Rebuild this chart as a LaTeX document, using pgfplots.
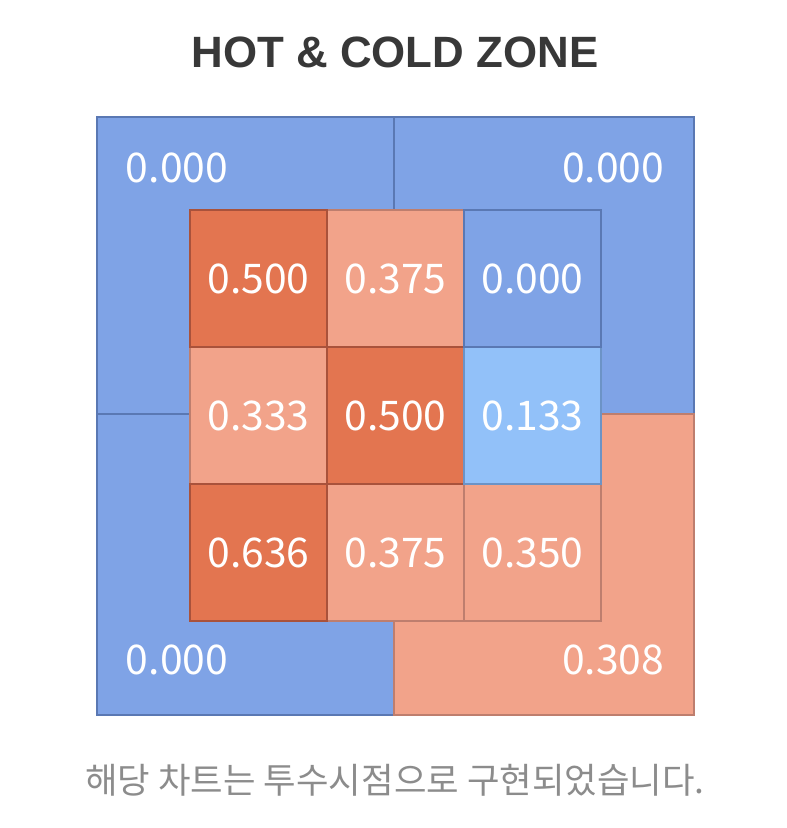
\documentclass[border=0pt]{standalone}
\usepackage{pgfplots}
\pgfplotsset{compat=1.18}
\usepackage{fontspec}
\setmainfont{Noto Sans CJK KR}
\newfontfamily\titlefont{Liberation Sans}
\definecolor{coldc}{HTML}{7FA3E6}
\definecolor{coldb}{HTML}{5A78B3}
\definecolor{lbluec}{HTML}{92C1F9}
\definecolor{lblueb}{HTML}{6C93C6}
\definecolor{hotc}{HTML}{E37550}
\definecolor{hotb}{HTML}{A9523B}
\definecolor{warmc}{HTML}{F2A38A}
\definecolor{warmb}{HTML}{BE7E6E}
\begin{document}
\begin{tikzpicture}
\useasboundingbox (0,0) rectangle (787bp,828bp);
\begin{axis}[
  at={(97bp,113bp)}, anchor=south west,
  width=597bp, height=598bp, scale only axis,
  xmin=-0.679, xmax=3.679, ymin=-0.686, ymax=3.679,
  axis lines=none, ticks=none, clip=false,
  every node near coord/.append style={anchor=center, text=white, font=\fontsize{41}{41}\selectfont},
]
% outer quadrants
\addplot[fill=coldc, draw=coldb, line width=1.7pt] coordinates {(-0.679,1.511) (1.489,1.511) (1.489,3.679) (-0.679,3.679)} -- cycle;
\addplot[fill=coldc, draw=coldb, line width=1.7pt] coordinates {(1.489,1.511) (3.679,1.511) (3.679,3.679) (1.489,3.679)} -- cycle;
\addplot[fill=coldc, draw=coldb, line width=1.7pt] coordinates {(-0.679,-0.686) (1.489,-0.686) (1.489,1.511) (-0.679,1.511)} -- cycle;
\addplot[fill=warmc, draw=warmb, line width=1.7pt] coordinates {(1.489,-0.686) (3.679,-0.686) (3.679,1.511) (1.489,1.511)} -- cycle;
% inner cells: warm
\addplot[fill=warmc, draw=warmb, line width=1.5pt] coordinates {(1,2) (2,2) (2,3) (1,3)} -- cycle;
\addplot[fill=warmc, draw=warmb, line width=1.5pt] coordinates {(0,1) (1,1) (1,2) (0,2)} -- cycle;
\addplot[fill=warmc, draw=warmb, line width=1.5pt] coordinates {(1,0) (2,0) (2,1) (1,1)} -- cycle;
\addplot[fill=warmc, draw=warmb, line width=1.5pt] coordinates {(2,0) (3,0) (3,1) (2,1)} -- cycle;
% hot
\addplot[fill=hotc, draw=hotb, line width=1.5pt] coordinates {(0,2) (1,2) (1,3) (0,3)} -- cycle;
\addplot[fill=hotc, draw=hotb, line width=1.5pt] coordinates {(1,1) (2,1) (2,2) (1,2)} -- cycle;
\addplot[fill=hotc, draw=hotb, line width=1.5pt] coordinates {(0,0) (1,0) (1,1) (0,1)} -- cycle;
% cold
\addplot[fill=lbluec, draw=lblueb, line width=1.5pt] coordinates {(2,1) (3,1) (3,2) (2,2)} -- cycle;
\addplot[fill=coldc, draw=coldb, line width=1.5pt] coordinates {(2,2) (3,2) (3,3) (2,3)} -- cycle;
% labels
\addplot[draw=none, mark=none, nodes near coords, point meta=explicit symbolic] table[meta=lab] {
x y lab
-0.095 3.307 0.000
3.088 3.307 0.000
-0.095 -0.285 0.000
3.088 -0.285 0.308
0.5 2.5 0.500
1.5 2.5 0.375
2.5 2.5 0.000
0.5 1.5 0.333
1.5 1.5 0.500
2.5 1.5 0.133
0.5 0.5 0.636
1.5 0.5 0.375
2.5 0.5 0.350
};
\end{axis}
\node[font=\titlefont\bfseries\fontsize{44}{44}\selectfont, text=black!78, anchor=center] at (395bp,776bp) {HOT \& COLD ZONE};
\node[font=\fontsize{35.5}{36}\selectfont, text=black!45, anchor=center] at (395bp,48bp) {해당 차트는 투수시점으로 구현되었습니다.};
\end{tikzpicture}
\end{document}
